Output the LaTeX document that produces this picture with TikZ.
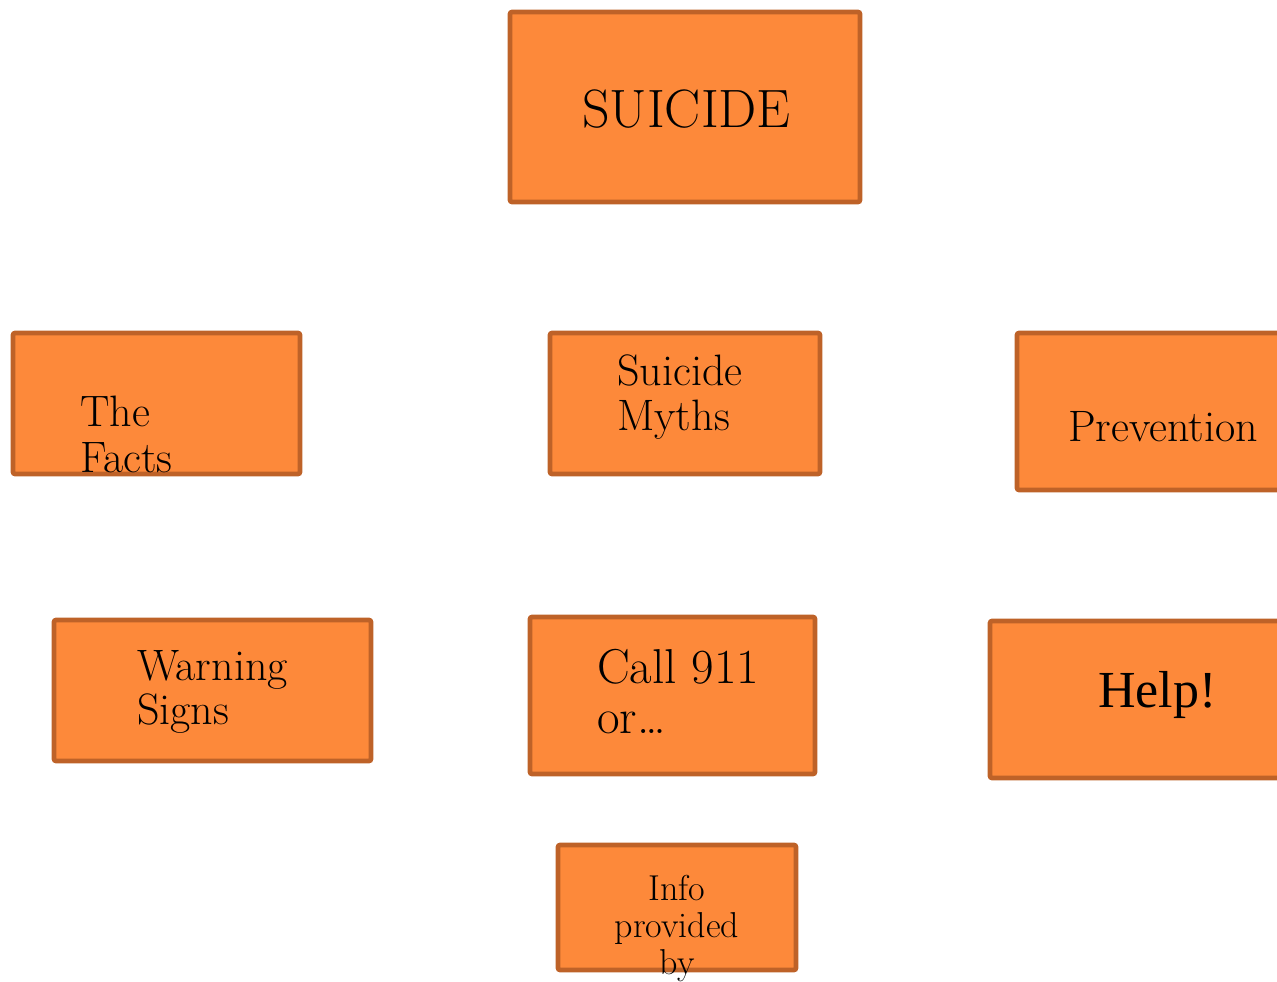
\documentclass[tikz,border=0pt]{standalone}
\usepackage{fontspec}
\newfontfamily\timesfont{Liberation Serif}
\usepackage{xcolor}
\usetikzlibrary{positioning,calc}

\definecolor{boxfill}{HTML}{FD893A}
\definecolor{boxline}{HTML}{BE6228}

\begin{document}
\begin{tikzpicture}[
  x=1pt, y=-1pt,
  box/.style={
    draw=boxline,
    fill=boxfill,
    line width=4.6pt,
    rounded corners=2pt,
    inner sep=0pt
  },
  lbl/.style={inner sep=0pt, align=left, anchor=base west},
  title/.style={lbl, font=\fontsize{54}{60}\selectfont},
  item/.style={lbl, font=\fontsize{44}{45}\selectfont},
  small/.style={lbl, align=center, anchor=base, font=\fontsize{36}{37}\selectfont}
]
  \useasboundingbox (0,0) rectangle (1277,982);

  % boxes
  \node[box, minimum width=350pt, minimum height=190pt] (suicide) at (685,107) {};
  \node[box, minimum width=287pt, minimum height=141pt] (facts) at (156.5,403.5) {};
  \node[box, minimum width=270pt, minimum height=141pt] (myths) at (685,403.5) {};
  \node[box, minimum width=291pt, minimum height=157pt] (prev) at (1162.5,411.5) {};
  \node[box, minimum width=317pt, minimum height=141pt] (warn) at (212.5,690.5) {};
  \node[box, minimum width=285pt, minimum height=157pt] (call) at (672.5,695.5) {};
  \node[box, minimum width=333pt, minimum height=157pt] (help) at (1156.5,699.5) {};
  \node[box, minimum width=238pt, minimum height=125pt] (info) at (677,907.5) {};

  % texts (multi-line: base = last line)
  \node[title] (suicideT) at (582,127) {SUICIDE};
  \node[item, font=\fontsize{44}{46}\selectfont] (factsT) at (80,472) {The\\Facts};
  \node[item] (mythsT) at (617,430) {Suicide\\Myths};
  \node[item] (prevT) at (1068,441) {Prevention};
  \node[item, font=\fontsize{44}{44}\selectfont] (warnT) at (137,724) {Warning\\Signs};
  \node[item, font=\fontsize{49}{50}\selectfont] (callT) at (597,733) {Call 911\\or\ldots};
  \node[lbl, font=\timesfont\fontsize{52}{58}\selectfont] (helpT) at (1098,707) {Help!};
  \node[small] (infoT) at (677,974) {Info\\provided\\by};
\end{tikzpicture}
\end{document}
